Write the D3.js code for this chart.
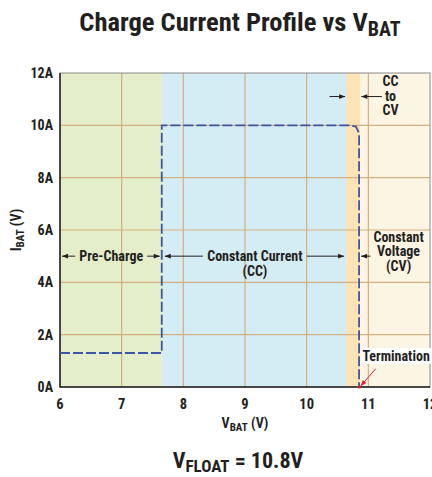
<!DOCTYPE html>
<meta charset="utf-8">
<style>
body { margin: 0; background: #fff; }
text { font-family: "Liberation Sans Narrow", "Roboto Condensed", "Liberation Sans", sans-serif; font-weight: bold; fill: #231f20; }
</style>
<svg width="432" height="477"></svg>
<script src="https://d3js.org/d3.v7.min.js"></script>
<script>

var xTicks = [6, 7, 8, 9, 10, 11, 12],
    yTicks = [0, 2, 4, 6, 8, 10, 12];

// shaded regions [from, to, colour]
var regions = [
  [6, 7.65, "#e5eecb"],
  [7.65, 10.64, "#d4ecf4"],
  [10.64, 10.87, "#fde3b6"],
  [10.87, 12, "#fdf5e4"]
];

// charge current profile (V, A)
var profile = [
  [6, 1.3], [7.65, 1.3], [7.65, 10], [10.7, 10],
  [10.8, 9.95], [10.85, 9.7], [10.85, 0]
];

var svg = d3.select("svg"),
    margin = {top: 73, right: 2, bottom: 90, left: 60},
    width = 432 - margin.left - margin.right,
    height = 477 - margin.top - margin.bottom;

var x = d3.scaleLinear().domain([6, 12]).range([0, width]);
var y = d3.scaleLinear().domain([0, 12]).range([height, 0]);

var g = svg.append("g").attr("transform", "translate(" + margin.left + "," + margin.top + ")");

var defs = svg.append("defs");
function marker(id, col) {
  defs.append("marker").attr("id", id)
      .attr("viewBox", "0 0 10 10").attr("refX", 10).attr("refY", 5)
      .attr("markerWidth", 7).attr("markerHeight", 6).attr("orient", "auto")
      .attr("markerUnits", "userSpaceOnUse")
    .append("path").attr("d", "M0,1L10,5L0,9z").attr("fill", col);
}
marker("ah", "#231f20");
marker("ahr", "#e31e24");

g.selectAll(".reg").data(regions).enter().append("rect")
    .attr("x", function(d) { return x(d[0]); })
    .attr("width", function(d) { return x(d[1]) - x(d[0]); })
    .attr("y", 0).attr("height", height)
    .attr("fill", function(d) { return d[2]; });

// grid
g.selectAll(".gx").data(xTicks.slice(1, -1)).enter().append("line")
    .attr("x1", x).attr("x2", x).attr("y1", 0).attr("y2", height)
    .attr("stroke", "#d2b07f").attr("stroke-width", 1.2);
g.selectAll(".gy").data(yTicks.slice(1, -1)).enter().append("line")
    .attr("y1", y).attr("y2", y).attr("x1", 0).attr("x2", width)
    .attr("stroke", "#d2b07f").attr("stroke-width", 1.2);

// frame
g.append("rect").attr("width", width).attr("height", height)
    .attr("fill", "none").attr("stroke", "#8a8a8a").attr("stroke-width", 1);
g.append("path").attr("d", "M0,0V" + height + "H" + width)
    .attr("fill", "none").attr("stroke", "#231f20").attr("stroke-width", 1.5);

// curve
g.append("path").datum(profile)
    .attr("d", d3.line().x(function(d) { return x(d[0]); }).y(function(d) { return y(d[1]); }))
    .attr("fill", "none").attr("stroke", "#3d55a5").attr("stroke-width", 1.8)
    .attr("stroke-dasharray", "10,3");
g.append("circle").attr("cx", x(10.85)).attr("cy", y(0)).attr("r", 1.5).attr("fill", "#e31e24");

// ticks
g.selectAll(".yl").data(yTicks).enter().append("text")
    .attr("x", -7).attr("y", function(d) { return y(d) + 5; })
    .attr("text-anchor", "end").style("font-size", "14px")
    .text(function(d) { return d + "A"; });
g.selectAll(".xl").data(xTicks).enter().append("text")
    .attr("x", x).attr("y", height + 22)
    .attr("text-anchor", "middle").style("font-size", "14.5px")
    .text(function(d) { return d; });

// titles
var t = svg.append("text").attr("x", 240).attr("y", 31).attr("text-anchor", "middle").style("font-size", "26.5px");
t.append("tspan").text("Charge Current Profile vs V");
t.append("tspan").attr("dy", 5).style("font-size", "20px").text("BAT");

var xl = svg.append("text").attr("x", 245).attr("y", 428).attr("text-anchor", "middle").style("font-size", "14px");
xl.append("tspan").text("V");
xl.append("tspan").attr("dy", 3).style("font-size", "11px").text("BAT");
xl.append("tspan").attr("dy", -3).text(" (V)");

var yl = svg.append("text").attr("transform", "translate(21,230) rotate(-90)").attr("text-anchor", "middle").style("font-size", "14px");
yl.append("tspan").text("I");
yl.append("tspan").attr("dy", 3).style("font-size", "11px").text("BAT");
yl.append("tspan").attr("dy", -3).text(" (V)");

var vf = svg.append("text").attr("x", 238).attr("y", 468).attr("text-anchor", "middle").style("font-size", "22px");
vf.append("tspan").text("V");
vf.append("tspan").attr("dy", 4).style("font-size", "17px").text("FLOAT");
vf.append("tspan").attr("dy", -4).text(" = 10.8V");

// annotations
function arrow(x1, y1, x2, y2, id) {
  g.append("line").attr("x1", x1).attr("y1", y1).attr("x2", x2).attr("y2", y2)
      .attr("stroke", id === "ahr" ? "#e31e24" : "#231f20").attr("stroke-width", 1)
      .attr("marker-end", "url(#" + id + ")");
}
function label(lines, cx, cy, size) {
  var s = g.append("text").attr("text-anchor", "middle").style("font-size", size + "px");
  lines.forEach(function(l, i) {
    s.append("tspan").attr("x", cx).attr("y", cy + i * 14.5).text(l);
  });
  return s;
}
var ya = y(5);
label(["Pre-Charge"], x(6.83), ya + 5, 14);
arrow(x(6.83) - 36, ya, x(6) + 2, ya, "ah");
arrow(x(6.83) + 36, ya, x(7.65) - 2, ya, "ah");

label(["Constant Current", "(CC)"], x(9.16), ya + 5, 14);
arrow(x(9.16) - 52, ya, x(7.65) + 3, ya, "ah");
arrow(x(9.16) + 52, ya, x(10.64) - 2, ya, "ah");

label(["Constant", "Voltage", "(CV)"], x(11.49), y(5.55), 14);
arrow(x(11.49) - 28, ya, x(10.85) + 2, ya, "ah");

label(["CC", "to", "CV"], x(11.36), y(11.5), 14);
arrow(x(10.37), y(11.1), x(10.64) - 1, y(11.1), "ah");
arrow(x(11.22), y(11.1), x(10.87) + 1, y(11.1), "ah");

var tb = label(["Termination"], x(11.45), y(1.0), 14);
var bb = tb.node().getBBox();
g.insert("rect", function() { return tb.node(); })
    .attr("x", bb.x - 1).attr("y", bb.y).attr("width", bb.width + 2).attr("height", bb.height)
    .attr("fill", "#fff");
arrow(x(11.12), y(0.7), x(10.86) + 1, y(0) - 1, "ahr");

</script>
